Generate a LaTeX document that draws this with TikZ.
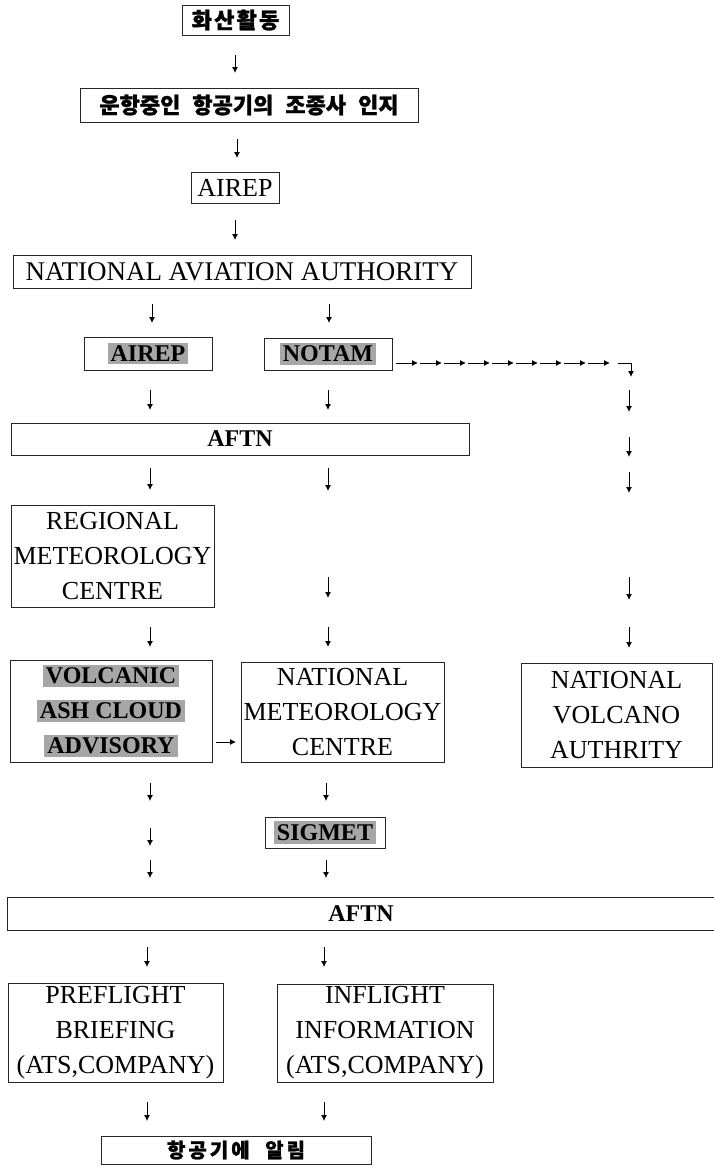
\documentclass[tikz,border=0pt]{standalone}
\usepackage{fontspec}
\setmainfont{Liberation Serif}
\newfontfamily\kofont{Noto Sans CJK KR}[FakeBold=1.2]
\usetikzlibrary{arrows.meta}
\newcommand{\shd}[1]{{\setlength{\fboxsep}{3pt}\colorbox{black!35}{\bfseries #1}}}

\begin{document}
\begin{tikzpicture}[x=1pt,y=-1pt,
  box/.style={draw=black!85,line width=0.9pt,inner sep=0pt,align=center,font=\fontsize{26}{35}\selectfont},
  kbox/.style={draw=black!85,line width=0.9pt,inner sep=0pt,align=center,font=\kofont\bfseries\fontsize{22}{26}\selectfont},
  arr/.style={-{Latex[length=6pt,width=6pt]},line width=0.9pt}]
\useasboundingbox (0,0) rectangle (714,1167);
\fill[white] (0,0) rectangle (714,1167);

% top column
\node[kbox,minimum width=107pt,minimum height=30pt] (act) at (235.5,20) {\addfontfeature{LetterSpace=10}화산활동};
\node[kbox,minimum width=338pt,minimum height=34pt] (pilot) at (249,105) {운항중인\hspace{7pt} 항공기의\hspace{7pt} 조종사\hspace{7pt} 인지};
\node[box,minimum width=88pt,minimum height=31pt] (airep) at (235,187.5) {AIREP};
\node[box,minimum width=458pt,minimum height=33pt,font=\fontsize{27}{30}\selectfont] (naa) at (242,271.5) {NATIONAL AVIATION AUTHORITY};

% messages
\node[box,minimum width=128pt,minimum height=33pt,font=\fontsize{24}{30}\selectfont] (airepb) at (148,353.5) {\shd{AIREP}};
\node[box,minimum width=128pt,minimum height=32pt,font=\fontsize{24}{30}\selectfont] (notam) at (328,354) {\shd{NOTAM}};
\node[box,minimum width=458pt,minimum height=32pt,font=\fontsize{24}{30}\selectfont] (aftna) at (240,439) {\textbf{AFTN}};

% centres
\node[box,minimum width=203pt,minimum height=102pt] (rmc) at (112.5,556) {REGIONAL\\METEOROLOGY\\CENTRE};
\node[box,minimum width=202pt,minimum height=102pt,font=\fontsize{24}{35}\selectfont] (vaac) at (111,711) {\shd{VOLCANIC}\\\shd{ASH CLOUD}\\\shd{ADVISORY}};
\node[box,minimum width=203pt,minimum height=100pt] (nmc) at (342.5,712) {NATIONAL\\METEOROLOGY\\CENTRE};
\node[box,minimum width=191pt,minimum height=104pt] (nva) at (616.5,715) {NATIONAL\\VOLCANO\\AUTHRITY};
\node[box,minimum width=120pt,minimum height=31pt,font=\fontsize{24}{30}\selectfont] (sigmet) at (325,832.5) {\shd{SIGMET}};

% open-ended AFTN bar
\node[inner sep=0pt,minimum width=706pt,minimum height=32pt,font=\fontsize{24}{30}\selectfont] (aftnb) at (361,914) {\textbf{AFTN}};
\draw[draw=black!85,line width=0.9pt] (aftnb.north east) -- (aftnb.north west) -- (aftnb.south west) -- (aftnb.south east);

% briefing
\node[box,minimum width=215pt,minimum height=99pt] (pre) at (115.5,1032.5) {PREFLIGHT\\BRIEFING\\(ATS,COMPANY)};
\node[box,minimum width=216pt,minimum height=98pt] (inf) at (385,1033) {INFLIGHT\\INFORMATION\\(ATS,COMPANY)};
\node[kbox,minimum width=270pt,minimum height=28pt,font=\kofont\bfseries\fontsize{20}{24}\selectfont] (notify) at (236,1150) {\addfontfeature{LetterSpace=15}항공기에 \hspace{8pt}알림};

% down arrows
\foreach \n/\x/\ya/\yb in {d1/235/55/73, d2/237/139/158, d3/235/220/240,
    d4/152/304/323, d5/329/304/323, d6/150/390/410, d7/328/390/410,
    r1/629/390/412, r2/629/437/457, r3/629/472/493, r4/629/577/600, r5/629/627/648,
    d8/150/468/490, d9/328/468/491, d10/328/577/598, d11/150/627/647, d12/328/627/647,
    d13/150/783/801, d14/326/783/801, d15/150/828/846, d16/150/860/878, d17/326/860/878,
    d18/147/947/967, d19/324/947/967, d20/147/1102/1121, d21/324/1102/1121}{
  \coordinate (\n-s) at (\x,\ya);
  \coordinate (\n-e) at (\x,\yb);
  \draw[arr] (\n-s) -- (\n-e);
}

% advisory to national centre
\coordinate (h-s) at (216,742);
\coordinate (h-e) at (236,742);
\draw[arr] (h-s) -- (h-e);

% NOTAM chain
\foreach \k in {0,...,8}{
  \coordinate (c\k-s) at (396+24*\k,363);
  \coordinate (c\k-e) at (418+24*\k,363);
  \draw[arr] (c\k-s) -- (c\k-e);
}
\coordinate (bend-s) at (618,363);
\coordinate (bend-m) at (631,363);
\coordinate (bend-e) at (631,377);
\draw[arr] (bend-s) -- (bend-m) -- (bend-e);
\end{tikzpicture}
\end{document}
